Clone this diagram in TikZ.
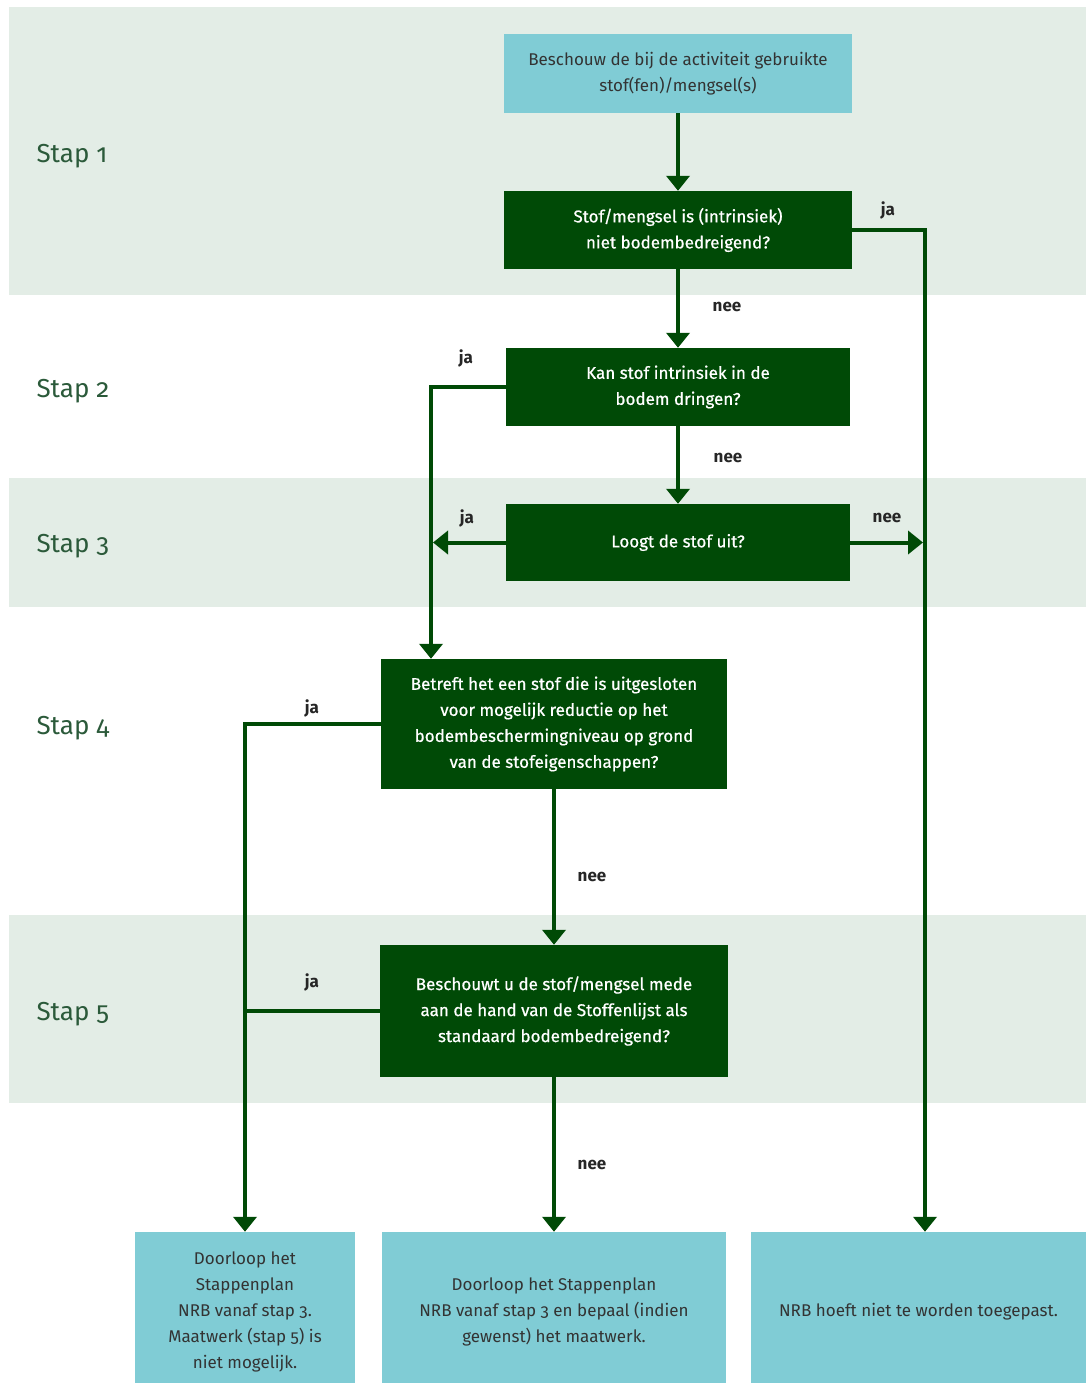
\documentclass[tikz,border=0pt]{standalone}
\usepackage{fontspec}
\setmainfont{Fira Sans}[Numbers=OldStyle]
\newfontfamily\medfont{Fira Sans}[Numbers=OldStyle, FakeBold=0.7]
\usetikzlibrary{arrows.meta,calc}
\definecolor{bandc}{HTML}{E3EDE6}
\definecolor{dkgreen}{HTML}{004A06}
\definecolor{ltblue}{HTML}{80CCD5}
\definecolor{stapc}{HTML}{2B5A3A}
\definecolor{txtc}{HTML}{333333}
\tikzset{
  darkbox/.style={fill=dkgreen, text=white, align=center, inner sep=0pt,
    font=\medfont\fontsize{17}{26}\selectfont},
  lightbox/.style={fill=ltblue, text=txtc, align=center, inner sep=0pt,
    font=\fontsize{17}{26}\selectfont},
  staplabel/.style={text=stapc, font=\fontsize{26}{30}\selectfont},
  yn/.style={text=black!85, font=\bfseries\fontsize{17}{18}\selectfont},
  conn/.style={draw=dkgreen, line width=4pt},
  arr/.style={conn, -{Triangle[length=15pt,width=23pt]}},
}
\begin{document}
\begin{tikzpicture}[x=1pt,y=-1pt]
\useasboundingbox (0,0) rectangle (1086,1383);
\clip (0,0) rectangle (1086,1383);
% bands
\fill[bandc] (9,7) rectangle (1086,295);
\fill[bandc] (9,478) rectangle (1086,607);
\fill[bandc] (9,915) rectangle (1086,1103);
% step labels
\node[staplabel, anchor=west] (s1) at (33,156) {Stap 1};
\node[staplabel, anchor=west] (s2) at (33,391) {Stap 2};
\node[staplabel, anchor=west] (s3) at (33,546) {Stap 3};
\node[staplabel, anchor=west] (s4) at (33,728) {Stap 4};
\node[staplabel, anchor=west] (s5) at (33,1014) {Stap 5};
% boxes
\node[lightbox, minimum width=348pt, minimum height=79pt] (b1) at (678,73.5)
  {Beschouw de bij de activiteit gebruikte\\stof(fen)/mengsel(s)};
\node[darkbox, minimum width=348pt, minimum height=78pt] (b2) at (678,230)
  {Stof/mengsel is (intrinsiek)\\niet bodembedreigend?};
\node[darkbox, minimum width=344pt, minimum height=78pt] (b3) at (678,387)
  {Kan stof intrinsiek in de\\bodem dringen?};
\node[darkbox, minimum width=344pt, minimum height=77pt] (b4) at (678,542.5)
  {Loogt de stof uit?};
\node[darkbox, minimum width=346pt, minimum height=130pt] (b5) at (554,724)
  {Betreft het een stof die is uitgesloten\\voor mogelijk reductie op het\\bodembeschermingniveau op grond\\van de stofeigenschappen?};
\node[darkbox, minimum width=348pt, minimum height=132pt] (b6) at (554,1011)
  {Beschouwt u de stof/mengsel mede\\aan de hand van de Stoffenlijst als\\standaard bodembedreigend?};
\node[lightbox, minimum width=220pt, minimum height=160pt] (e1) at (245,1312)
  {Doorloop het\\Stappenplan\\NRB vanaf stap 3.\\Maatwerk (stap 5) is\\niet mogelijk.};
\node[lightbox, minimum width=344pt, minimum height=160pt] (e2) at (554,1312)
  {Doorloop het Stappenplan\\NRB vanaf stap 3 en bepaal (indien\\gewenst) het maatwerk.};
\node[lightbox, minimum width=335pt, minimum height=160pt] (e3) at (918.5,1312)
  {NRB hoeft niet te worden toegepast.};
% helper coordinates for vertical trunks
\coordinate (rx) at (925,0);
\coordinate (lx) at (431,0);
% connectors
\draw[arr] (b1) -- (b2);
\draw[arr] (b2) -- (b3);
\draw[arr] (b3) -- (b4);
\draw[arr] (b2.east) -| (rx |- e3.north);
\draw[arr] (b3.west) -| (lx |- b5.north);
\draw[arr] (b4.west) -- ([xshift=2pt]lx |- b4.west);
\draw[arr] (b4.east) -- ([xshift=-2pt]rx |- b4.east);
\draw[arr] (b5) -- (b6);
\draw[arr] (b5.west) -| (e1.north);
\draw[conn] (b6.west) -- (e1.north |- b6.west);
\draw[arr] (b6) -- (e2);
% labels
\node[yn] (l1) at (888,210) {ja};
\node[yn] (l2) at (727,307) {nee};
\node[yn] (l3) at (466,358) {ja};
\node[yn] (l4) at (728,458) {nee};
\node[yn] (l5) at (467,518) {ja};
\node[yn] (l6) at (887,518) {nee};
\node[yn] (l7) at (312,708) {ja};
\node[yn] (l8) at (592,877) {nee};
\node[yn] (l9) at (312,982) {ja};
\node[yn] (l10) at (592,1165) {nee};
\end{tikzpicture}
\end{document}
